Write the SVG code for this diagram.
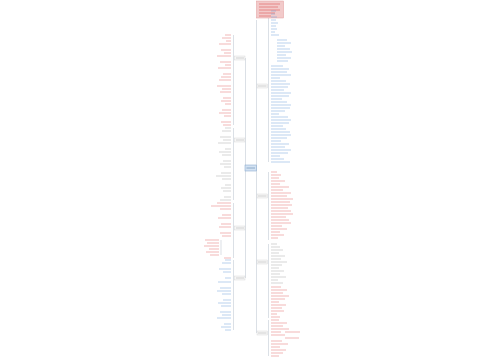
<svg xmlns="http://www.w3.org/2000/svg" width="500" height="360" viewBox="0 0 500 360">
<style>
.bg{fill:#fff}
.con{fill:none;stroke:#c3cbd5;stroke-width:0.6}
.tb{fill:none;stroke:#6f9fd8;stroke-width:0.9;opacity:.55}
.tr{fill:none;stroke:#e26a6a;stroke-width:0.9;opacity:.55}
.tg{fill:none;stroke:#aaaaaa;stroke-width:0.9;opacity:.55}
.node{fill:#f7f7f7;stroke:#d0d0d0;stroke-width:0.4}
.center{fill:#d3e2f2;stroke:#7c9fc8;stroke-width:0.5}
.title{fill:#f2caca;stroke:#e29a9a;stroke-width:0.5}
</style>
<rect class="bg" width="500" height="360"/>
<g id="connectors">
<path class="con" d="M256.5 20V333M245.5 58V278"/>
<path class="con" d="M268.5 11V162M268.5 172V240M268.5 244V318M268.5 320V356"/>
<path class="con" d="M233.5 35V125M233.5 128V200M233.5 203V258M233.5 260V330M221 240V255"/>
</g>
<g id="title">
<rect class="title" x="256.5" y="1" width="27" height="17"/>
<path class="tr" style="opacity:.8" d="M259 4h21M259 7h19M259 10h21M259 13h16M259 16h12"/>
</g>
<g id="center">
<rect class="center" x="245" y="165" width="11.5" height="6"/>
<path stroke="#557aa6" stroke-width="0.9" opacity=".6" d="M246.5 168h8.5"/>
</g>
<g id="r1">
<rect class="node" x="257" y="84" width="10.5" height="4"/>
<path class="tg" d="M258 86h8.5"/>
<path class="tb" d="M271 11h5M271 14h4M271 17h6M271 20h5M271 23h7M271 26h5M271 29h6M271 32h4M271 35h8
M277 40h10M277 43h14M277 46h8M277 49h13M277 52h15M277 55h9M277 58h14M277 61h11
M271 66h12M271 69h18M271 72h16M271 75h20M271 78h9M271 81h15M271 84h19M271 87h17M271 90h13M271 93h20M271 96h18M271 99h11M271 102h16M271 105h20M271 108h19M271 111h14M271 114h8M271 117h17M271 120h20M271 123h18M271 126h12M271 129h15M271 132h19M271 135h20M271 138h16M271 141h10M271 144h18M271 147h14M271 150h20M271 153h17M271 156h9M271 159h13M271 162h19"/>
</g>
<g id="r2">
<rect class="node" x="257" y="194" width="10.5" height="4"/>
<path class="tg" d="M258 196h8.5"/>
<path class="tr" d="M271 172h6M271 175h10M271 178h8M271 181h14M271 184h9M271 187h18M271 190h12M271 193h20M271 196h16M271 199h22M271 202h19M271 205h21M271 208h17M271 211h20M271 214h22M271 217h15M271 220h18M271 223h20M271 226h11M271 229h16M271 232h9M271 235h13M271 238h7"/>
</g>
<g id="r3">
<rect class="node" x="257" y="260" width="10.5" height="4"/>
<path class="tg" d="M258 262h8.5"/>
<path class="tg" d="M271 244h6M271 247h9M271 250h12M271 253h8M271 256h14M271 259h10M271 262h16M271 265h11M271 268h8M271 271h13M271 274h9M271 277h15M271 280h7M271 283h12"/>
<path class="tr" d="M271 287h10M271 290h16M271 293h12M271 296h18M271 299h14M271 302h8M271 305h15M271 308h11M271 311h13M271 314h6M271 317h9"/>
</g>
<g id="r4">
<rect class="node" x="257" y="331" width="10.5" height="4"/>
<path class="tg" d="M258 333h8.5"/>
<path class="tr" d="M271 320h8M271 323h16M271 326h12M271 329h18M271 332h10M285 332h15M271 335h14M285 338h14M271 341h11M271 344h17M271 347h9M271 350h15M271 353h12M271 356h8"/>
</g>
<g id="l1">
<rect class="node" x="234.5" y="56" width="10.5" height="4"/>
<path class="tg" d="M236 58h8"/>
<path class="tr" d="M231 35h-6M231 38h-9M231 41h-5M231 44h-12M231 50h-10M231 53h-7M231 56h-14M231 62h-11M231 65h-6M231 68h-13M231 74h-8M231 77h-10M231 80h-12M231 86h-14M231 89h-9M231 92h-11M231 98h-8M231 101h-10M231 104h-6M231 110h-9M231 113h-12M231 116h-7M231 122h-10M231 125h-8"/>
</g>
<g id="l2">
<rect class="node" x="234.5" y="138" width="10.5" height="4"/>
<path class="tg" d="M236 140h8"/>
<path class="tg" d="M231 128h-6M231 131h-9M231 137h-11M231 140h-8M231 143h-13M231 149h-6M231 152h-12M231 155h-9M231 161h-8M231 164h-11M231 167h-7M231 173h-10M231 176h-15M231 179h-9M231 185h-6M231 188h-10M231 191h-8M231 197h-7M231 200h-11"/>
</g>
<g id="l3">
<rect class="node" x="234.5" y="226" width="10.5" height="4"/>
<path class="tg" d="M236 228h8"/>
<path class="tr" d="M231 203h-14M231 206h-20M231 209h-11M231 215h-9M231 218h-13M231 224h-10M231 227h-12M231 233h-11M231 236h-9M219 240h-14M219 243h-12M219 246h-15M219 249h-10M219 252h-13M219 255h-9M231 258h-7"/>
</g>
<g id="l4">
<rect class="node" x="234.5" y="276" width="10.5" height="4"/>
<path class="tg" d="M236 278h8"/>
<path class="tb" d="M231 260h-6M231 263h-9M231 269h-12M231 272h-8M231 278h-6M231 282h-13M231 288h-11M231 291h-14M231 294h-9M231 300h-8M231 303h-13M231 306h-10M231 312h-11M231 315h-9M231 318h-14M231 324h-7M231 327h-10M231 330h-6"/>
</g>
</svg>
